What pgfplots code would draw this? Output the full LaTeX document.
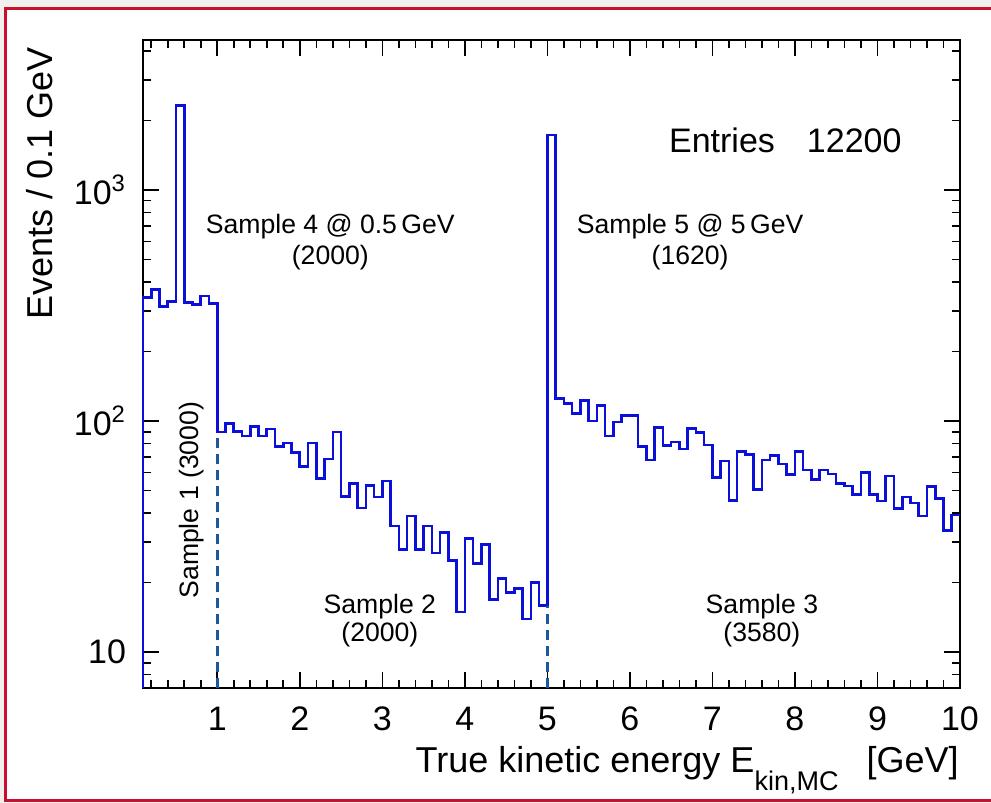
\documentclass[border=0pt]{standalone}
\usepackage{fontspec}
\setmainfont{Liberation Sans}
\usepackage{pgfplots}
\pgfplotsset{compat=1.18}
\definecolor{Hist}{HTML}{0A10D8}
\definecolor{Dash}{HTML}{1B5A9A}
\definecolor{Border}{HTML}{C8102E}
\definecolor{Outer}{HTML}{F2F0EF}

\newcommand{\fbig}{\fontsize{17}{20}\selectfont}
\newcommand{\flab}{\fontsize{18}{21}\selectfont}
\newcommand{\fsmall}{\fontsize{13.3}{16}\selectfont}

\begin{document}
\begin{tikzpicture}
% picture is 991x803 px, 1 px = 0.5pt, origin top left
\path[use as bounding box] (0,0) rectangle (495.5pt,-401.5pt);
\clip (0,0) rectangle (495.5pt,-401.5pt);
\fill[Outer] (0,0) rectangle (495.5pt,-401.5pt);
\fill[white] (2.75pt,-4.25pt) rectangle (510pt,-400.25pt);
\draw[Border,line width=1.5pt] (2.75pt,-4.25pt) rectangle (510pt,-400.25pt);

\begin{axis}[
  at={(71.5pt,-344pt)}, anchor=south west,
  scale only axis, width=408.5pt, height=324pt,
  xmin=0.1, xmax=10,
  ymode=log, ymin=7, ymax=4460,
  xtick={1,2,3,4,5,6,7,8,9,10},
  minor xtick={0.2,0.4,0.6,0.8,1.2,1.4,1.6,1.8,2.2,2.4,2.6,2.8,3.2,3.4,3.6,3.8,4.2,4.4,4.6,4.8,5.2,5.4,5.6,5.8,6.2,6.4,6.6,6.8,7.2,7.4,7.6,7.8,8.2,8.4,8.6,8.8,9.2,9.4,9.6,9.8},
  ytick={10,100,1000},
  yticklabels={10,10\textsuperscript{2},10\textsuperscript{3}},
  minor ytick={7,8,9,20,30,40,50,60,70,80,90,200,300,400,500,600,700,800,900,2000,3000,4000},
  tick pos=both, tick align=inside,
  major tick length=8pt, minor tick length=4pt,
  axis line style={black,line width=1pt},
  every tick/.style={black,line width=0.8pt},
  tick label style={font=\fbig},
  /pgf/number format/assume math mode=true,
  xticklabel style={yshift=-6pt},
  yticklabel style={xshift=-5pt},
  clip=false,
]
\addplot[Hist, line width=1.3pt, const plot mark left] coordinates {
(0.1,7) (0.1,343) (0.2,371) (0.3,314) (0.4,330) (0.5,2325) (0.6,327) (0.7,319) (0.8,348) (0.9,323)
(1.0,89.7) (1.1,97.9) (1.2,90.4) (1.3,86.3) (1.4,94.8) (1.5,86.3) (1.6,92.6) (1.7,77.6) (1.8,80.4) (1.9,73.1)
(2.0,63.7) (2.1,80.4) (2.2,56.6) (2.3,68.7) (2.4,89.7) (2.5,47.2) (2.6,53.7) (2.7,42.1) (2.8,52.5) (2.9,47.0)
(3.0,55.0) (3.1,35.2) (3.2,27.9) (3.3,38.9) (3.4,27.9) (3.5,35.2) (3.6,26.9) (3.7,33.0) (3.8,24.9) (3.9,14.9)
(4.0,31.1) (4.1,24.2) (4.2,29.3) (4.3,16.9) (4.4,20.9) (4.5,18.1) (4.6,18.9) (4.7,13.9) (4.8,20.0) (4.9,15.9)
(5.0,1730) (5.1,125.4) (5.2,119.4) (5.3,108.1) (5.4,122.5) (5.5,100) (5.6,116.9) (5.7,86.1) (5.8,99) (5.9,105.8)
(6.0,105.8) (6.1,77.5) (6.2,67.8) (6.3,94) (6.4,78.6) (6.5,81.1) (6.6,75.9) (6.7,92.7) (6.8,89.1) (6.9,78.8)
(7.0,56.9) (7.1,67.1) (7.2,45.3) (7.3,74.1) (7.4,71.5) (7.5,50.6) (7.6,67.8) (7.7,71.2) (7.8,65.2) (7.9,58.7)
(8.0,74.1) (8.1,61.4) (8.2,56.0) (8.3,61.4) (8.4,59.0) (8.5,53.7) (8.6,52.3) (8.7,48.2) (8.8,60.0) (8.9,48.2)
(9.0,45.2) (9.1,57.9) (9.2,41.9) (9.3,47.0) (9.4,44.3) (9.5,38.8) (9.6,52.0) (9.7,46.3) (9.8,33.7) (9.9,39.2)
(10.0,39.2)
};
\addplot[Dash, line width=1.5pt, dash pattern=on 5pt off 3pt] coordinates {(1,7) (1,89.7)};
\addplot[Dash, line width=1.5pt, dash pattern=on 5pt off 3pt] coordinates {(5,7) (5,15.9)};

\node[font=\fbig, anchor=west] at (axis cs:6.39,1645) {Entries\hspace{16pt}12200};
\node[font=\fsmall] at (axis cs:2.37,698) {Sample 4 @ 0.5\,GeV};
\node[font=\fsmall] at (axis cs:2.37,508) {(2000)};
\node[font=\fsmall] at (axis cs:6.73,698) {Sample 5 @ 5\,GeV};
\node[font=\fsmall] at (axis cs:6.73,508) {(1620)};
\node[font=\fsmall, rotate=90] at (axis cs:0.69,45.5) {Sample 1 (3000)};
\node[font=\fsmall] at (axis cs:2.97,15.8) {Sample 2};
\node[font=\fsmall] at (axis cs:2.97,11.9) {(2000)};
\node[font=\fsmall] at (axis cs:7.6,15.8) {Sample 3};
\node[font=\fsmall] at (axis cs:7.6,11.9) {(3580)};
\end{axis}

\node[font=\flab, rotate=90, anchor=east] at (20pt,-20pt) {Events / 0.1 GeV};
\node[font=\flab, anchor=base east, inner sep=0pt] at (479.5pt,-386pt)
  {True kinetic energy E\raisebox{-9pt}{\fontsize{13.5}{13.5}\selectfont kin,MC}\hspace{14pt}[GeV]};
\end{tikzpicture}
\end{document}
